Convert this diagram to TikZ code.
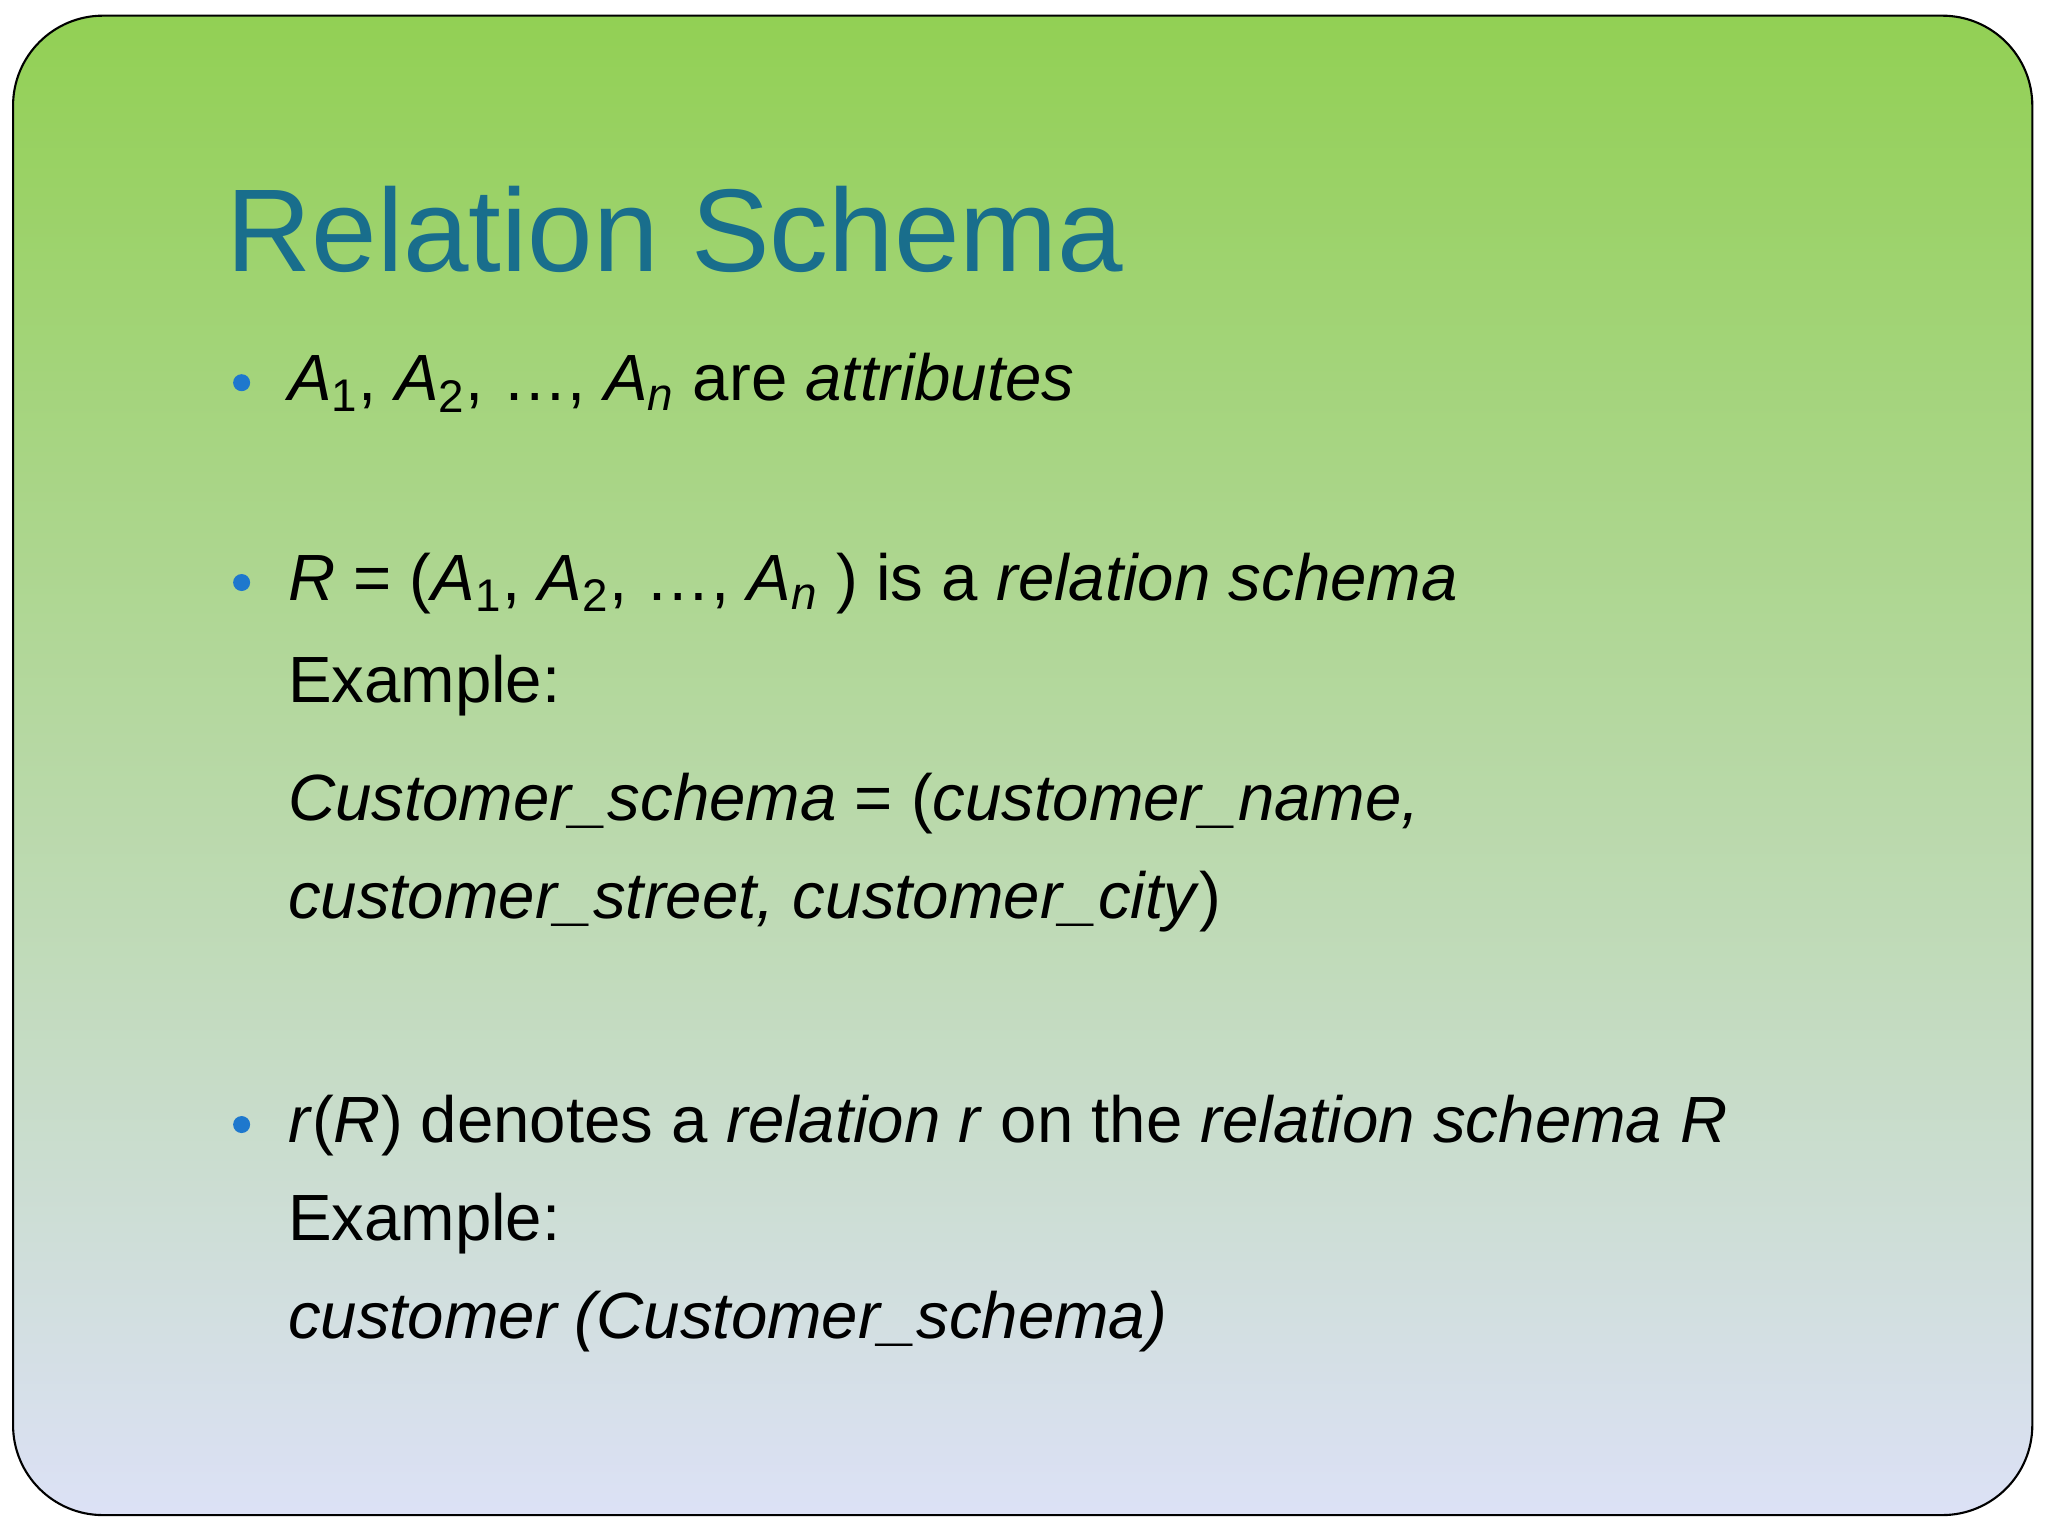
\documentclass[tikz,border=0pt]{standalone}
\usepackage{fontspec}
\setmainfont{Liberation Sans}
\definecolor{topg}{RGB}{146,208,84}
\definecolor{midl}{RGB}{182,198,240}
\definecolor{botl}{RGB}{220,225,246}
\definecolor{titlec}{RGB}{25,110,140}
\definecolor{bulc}{RGB}{30,120,205}
\begin{document}
\begin{tikzpicture}[x=0.01306cm,y=-0.01306cm,
  body/.style={anchor=base west,inner sep=0,font=\fontsize{18.6}{22}\selectfont},
  bul/.style={circle,fill=bulc,inner sep=0,minimum size=0.17cm}]
\useasboundingbox (0,0) rectangle (1568,1176);
\fill[white] (0,0) rectangle (1568,1176);
\shade[top color=topg,middle color=midl,bottom color=botl,draw=black,line width=0.6pt,rounded corners=0.9cm] (10,12) rectangle (1556,1160);
\node[anchor=base west,inner sep=0,text=titlec,font=\fontsize{33.5}{40}\selectfont] (title) at (173,208) {Relation Schema};
\node[bul] (b1) at (185,293) {};
\node[body] (t1) at (220,307) {\textit{A}\textsubscript{1}, \textit{A}\textsubscript{2}, …, \textit{A\textsubscript{n}} are \textit{attributes}};
\node[bul] (b2) at (185,446) {};
\node[body] (t2) at (220,460) {\textit{R} = (\textit{A}\textsubscript{1}, \textit{A}\textsubscript{2}, …, \textit{A\textsubscript{n}} ) is a \textit{relation schema}};
\node[body] (t3) at (220,538) {Example:};
\node[body] (t4) at (220,628) {\textit{Customer\_schema} = (\textit{customer\_name,}};
\node[body] (t5) at (220,703) {\textit{customer\_street, customer\_city})};
\node[bul] (b3) at (185,861) {};
\node[body] (t6) at (220,875) {\textit{r}(\textit{R}) denotes a \textit{relation r} on the \textit{relation schema R}};
\node[body] (t7) at (220,950) {Example:};
\node[body] (t8) at (220,1025) {\textit{customer (Customer\_schema)}};
\end{tikzpicture}
\end{document}
